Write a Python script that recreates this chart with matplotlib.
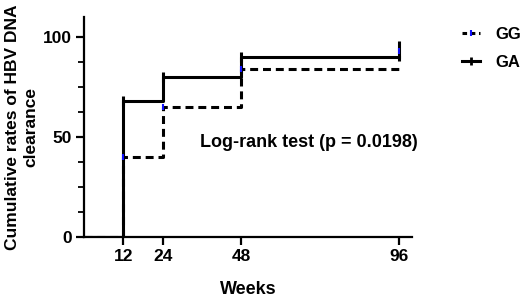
import matplotlib
matplotlib.use("Agg")
import matplotlib.pyplot as plt
from matplotlib.lines import Line2D

plt.rcParams['font.family'] = ['Liberation Sans', 'DejaVu Sans']
plt.rcParams['font.weight'] = 'bold'

weeks = [0, 12, 24, 48, 96]
gg_rates = [0, 40, 65, 84, 84]
ga_rates = [0, 68, 80, 90, 90]
ga_censor_x = [12, 24, 48]
ga_censor_y = [68, 80, 90]
ga_end_censor = (96, 93)
gg_censor_x = [12, 24, 48]
gg_censor_y = [40, 65, 84]
xticks = [12, 24, 48, 96]
yticks = [0, 50, 100]

fig = plt.figure(figsize=(5.26, 2.98), dpi=100)
ax = fig.add_axes([0.16, 0.205, 0.623, 0.738])

lw = 2.2
gg_line, = ax.step(weeks, gg_rates, where='post', color='black', lw=lw, linestyle=(0, (2.6, 1.6)))
ga_line, = ax.step(weeks, ga_rates, where='post', color='black', lw=lw)
ax.plot(ga_censor_x, ga_censor_y, linestyle='none', marker='|', markersize=7, mew=2.2, color='black')
ax.plot([ga_end_censor[0]], [ga_end_censor[1]], linestyle='none', marker='|', markersize=15, mew=2.2, color='black')
ax.plot(gg_censor_x, gg_censor_y, linestyle='none', marker='|', markersize=4, mew=1.5, color='#1010ff')
ax.plot([ga_end_censor[0]], [ga_end_censor[1]], linestyle='none', marker='|', markersize=4, mew=1.5, color='#1010ff')

ax.set_xlim(0, 100)
ax.set_ylim(0, 110)
ax.set_xticks(xticks)
ax.set_yticks(yticks)
ax.set_yticks([12.5, 25, 37.5, 62.5, 75, 87.5], minor=True)
for s in ['top', 'right']:
    ax.spines[s].set_visible(False)
for s in ['left', 'bottom']:
    ax.spines[s].set_linewidth(1.6)
ax.tick_params(axis='both', which='major', length=6, width=1.6, labelsize=12.5, pad=3)
ax.tick_params(axis='y', which='minor', length=4, width=1.3)
for lab in ax.get_xticklabels() + ax.get_yticklabels():
    lab.set_fontweight('bold')

ax.set_xlabel('Weeks', fontsize=13, fontweight='bold', labelpad=12)
ax.set_ylabel('Cumulative rates of HBV DNA\nclearance', fontsize=12.5, fontweight='bold', linespacing=1.3)
ax.yaxis.set_label_coords(-0.14, 0.5)

ax.text(35.4, 47, 'Log-rank test (p = 0.0198)', fontsize=13, fontweight='bold', va='center', ha='left')

h_gg = Line2D([0], [0], color='black', lw=lw, linestyle=(0, (1.5, 1.2)), marker='|', markersize=4, mew=1.5,
              markeredgecolor='#1010ff')
h_ga = Line2D([0], [0], color='black', lw=lw, marker='|', markersize=6, mew=2, markeredgecolor='black')
leg = fig.legend([h_gg, h_ga], ['GG', 'GA'], loc='upper left', bbox_to_anchor=(0.85, 0.96),
                 frameon=False, handlelength=1.1, handletextpad=0.9, labelspacing=0.8,
                 prop={'size': 12, 'weight': 'bold'})

fig.savefig('out.png', dpi=100)
